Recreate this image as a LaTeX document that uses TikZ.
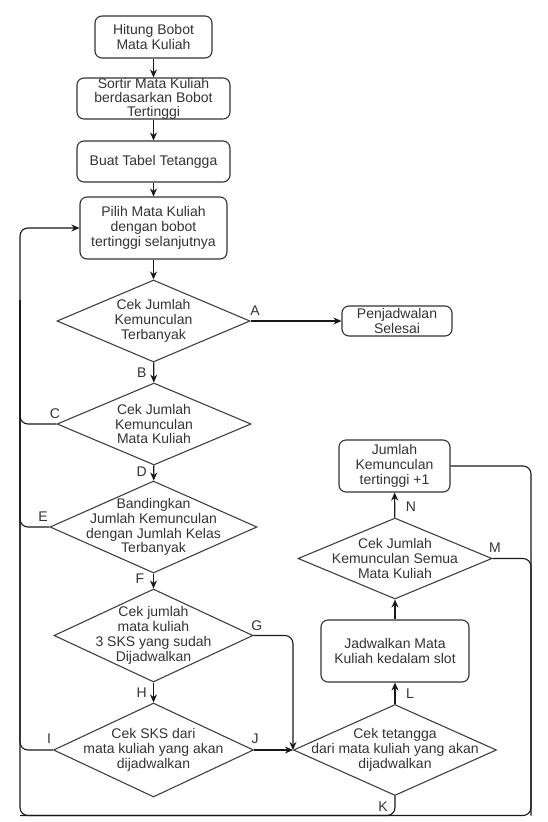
\documentclass[tikz,border=0pt]{standalone}
\usepackage{fontspec}
\setmainfont{Liberation Sans}
\usepackage{tikz}
\usetikzlibrary{arrows.meta, shapes.geometric}

\begin{document}
\begin{tikzpicture}[x=1pt, y=-1pt, >={Stealth[length=8pt, width=7pt]},
    font=\fontsize{14}{14.8}\selectfont, line width=1.1pt,
    proc/.style={draw=black!80, rounded corners=7pt, align=center, inner sep=0pt, text=black!80},
    decision/.style={draw=black!75, diamond, inner sep=0pt},
    every label/.style={align=center, text=black!80},
    tag/.style={text=black!80, inner sep=0pt},
    flow/.style={black!90, rounded corners=8pt}]
  \useasboundingbox (0,0) rectangle (547,822);

  \node[proc, minimum width=117pt, minimum height=42pt] (hitung) at (153.5,37) {Hitung Bobot\\Mata Kuliah};
  \node[proc, minimum width=153pt, minimum height=41pt, font=\fontsize{14}{14}\selectfont] (sortir) at (153.5,98.5) {Sortir Mata Kuliah\\berdasarkan Bobot\\Tertinggi};
  \node[proc, minimum width=153pt, minimum height=41pt] (tabel) at (153.5,161.5) {Buat Tabel Tetangga};
  \node[proc, minimum width=147pt, minimum height=62pt] (pilih) at (153.5,228) {Pilih Mata Kuliah\\dengan bobot\\tertinggi selanjutnya};

  \node[decision, minimum width=193pt, minimum height=82pt, label=center:{Cek Jumlah\\Kemunculan\\Terbanyak}] (d1) at (153.5,321) {};
  \node[proc, minimum width=110pt, minimum height=30pt] (selesai) at (397,321) {Penjadwalan\\Selesai};
  \node[decision, minimum width=194pt, minimum height=82pt, label=center:{Cek Jumlah\\Kemunculan\\Mata Kuliah}] (d2) at (154,424) {};
  \node[decision, minimum width=207pt, minimum height=92pt, label=center:{Bandingkan\\Jumlah Kemunculan\\dengan Jumlah Kelas\\Terbanyak}] (d3) at (153.5,527) {};
  \node[decision, minimum width=199pt, minimum height=93pt, label=center:{Cek jumlah\\mata kuliah\\3 SKS yang sudah\\Dijadwalkan}] (d4) at (153.5,635.5) {};
  \node[decision, minimum width=200pt, minimum height=94pt, label=center:{Cek SKS dari\\mata kuliah yang akan\\dijadwalkan}] (d5) at (153.5,750) {};

  \node[decision, minimum width=203pt, minimum height=91pt, label=center:{Cek tetangga\\dari mata kuliah yang akan\\dijadwalkan}] (d6) at (395,750) {};
  \node[proc, minimum width=148pt, minimum height=62pt] (jadwal) at (395,651) {Jadwalkan Mata\\Kuliah kedalam slot};
  \node[decision, minimum width=194pt, minimum height=81pt, label=center:{Cek Jumlah\\Kemunculan Semua\\Mata Kuliah}] (d7) at (395,558.5) {};
  \node[proc, minimum width=111pt, minimum height=52pt] (jml) at (394.5,466) {Jumlah\\Kemunculan\\tertinggi +1};

  \coordinate (loopR) at (531,815.5);
  \coordinate (loopL) at (20,815.5);
  \coordinate (loopUp) at (20,300);

  % main column
  \draw[flow, ->] (hitung) -- (sortir);
  \draw[flow, ->] (sortir) -- (tabel);
  \draw[flow, ->] (tabel) -- (pilih);
  \draw[flow, ->] (pilih) -- (d1);
  \draw[flow, ->] (d1) -- (d2);
  \draw[flow, ->] (d2) -- (d3);
  \draw[flow, ->] (d3) -- (d4);
  \draw[flow, ->] (d4) -- (d5);
  \draw[flow, ->] (d1.east) -- (selesai.west);
  \draw[flow, ->] (d4.east) -| (d6.west);
  \draw[flow, ->] (d5.east) -- (d6.west);

  % right column
  \draw[flow, ->] (d6) -- (jadwal);
  \draw[flow, ->] (jadwal) -- (d7);
  \draw[flow, ->] (d7) -- (jml);

  % loop back
  \draw[flow, ->] (jml.east) -| (loopR) -- (loopL) |- (pilih.west);
  \draw[flow] (d7.east) -| (loopR);
  \draw[flow] (d6.south) |- (loopL);
  \draw[flow] (d2.west) -| (loopUp);
  \draw[flow] (d3.west) -| (loopUp);
  \draw[flow] (d5.west) -| (loopUp);

  \node[tag] (tA) at (255,310.7) {A};
  \node[tag] (tB) at (141.7,373) {B};
  \node[tag] (tC) at (55,414) {C};
  \node[tag] (tD) at (141.7,471.7) {D};
  \node[tag] (tE) at (43,517) {E};
  \node[tag] (tF) at (140,579) {F};
  \node[tag] (tG) at (256.7,626) {G};
  \node[tag] (tH) at (141.7,693) {H};
  \node[tag] (tI) at (49,739) {I};
  \node[tag] (tJ) at (255,739) {J};
  \node[tag] (tK) at (383,807) {K};
  \node[tag] (tL) at (410,694) {L};
  \node[tag] (tM) at (495,548) {M};
  \node[tag] (tN) at (411,507) {N};
\end{tikzpicture}
\end{document}
